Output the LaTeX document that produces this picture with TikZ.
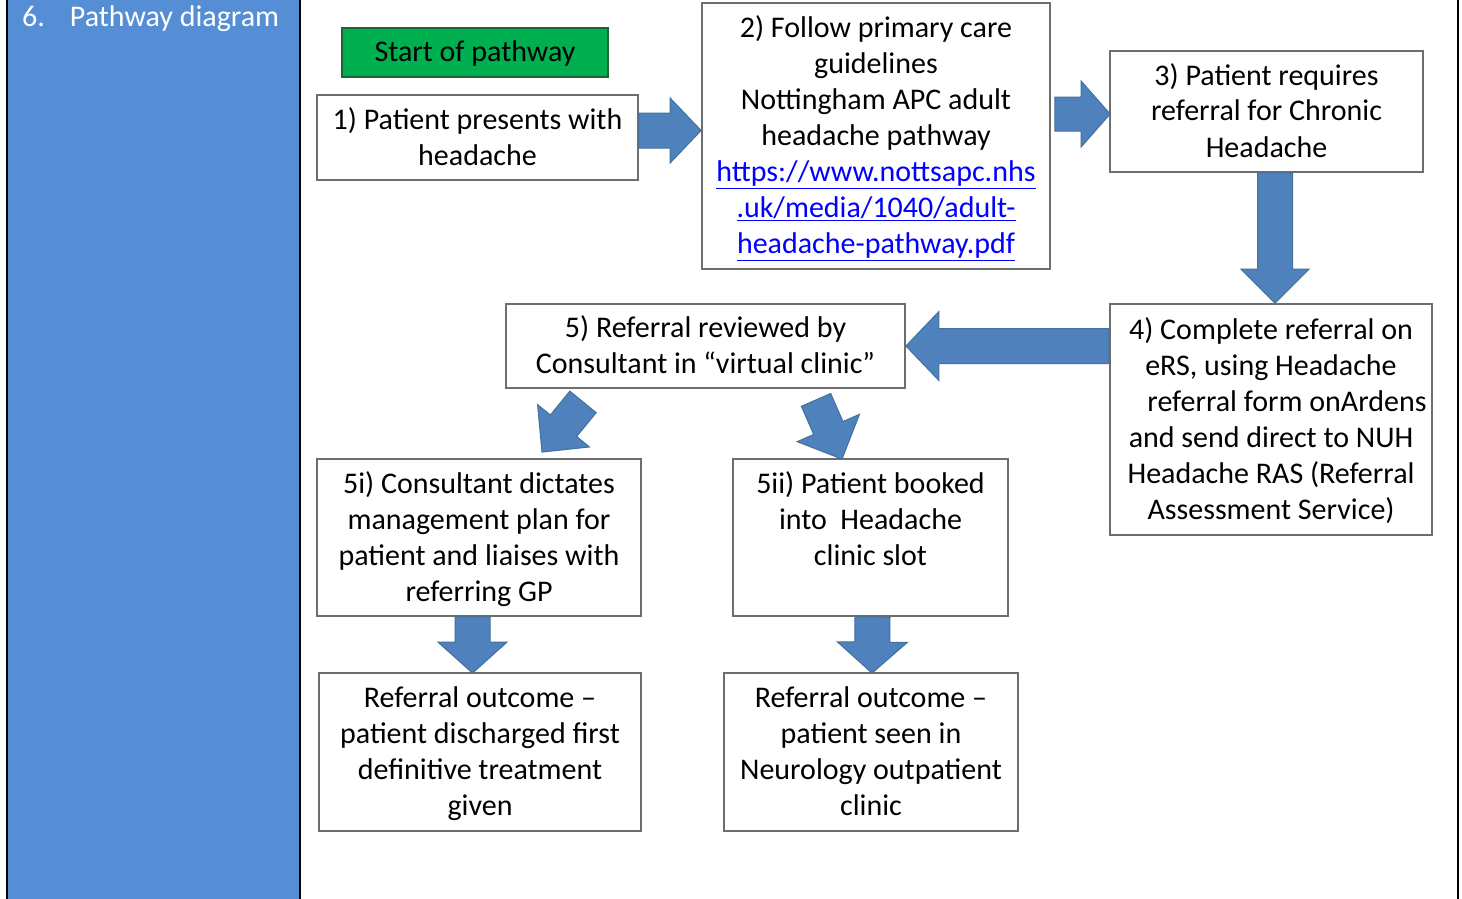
\documentclass[tikz,border=0pt]{standalone}
\usepackage{fontspec}
\setmainfont{Carlito}
\usetikzlibrary{calc}
\definecolor{panelblue}{RGB}{85,142,213}
\definecolor{arrfill}{RGB}{79,129,189}
\definecolor{arrdraw}{RGB}{65,113,156}
\definecolor{boxline}{RGB}{110,110,110}
\definecolor{startgreen}{RGB}{0,176,80}
\definecolor{startline}{RGB}{30,100,50}
\definecolor{linkblue}{RGB}{0,0,255}
\newcommand\blockarr[5]{%
  \coordinate (ba-h) at ($(#2)!#5!(#1)$);
  \filldraw[blockarrow] ($(#1)!#3!90:(#2)$) -- ($(ba-h)!#3!90:(#2)$) -- ($(ba-h)!#4!90:(#2)$) -- (#2) -- ($(ba-h)!#4!-90:(#2)$) -- ($(ba-h)!#3!-90:(#2)$) -- ($(#1)!#3!-90:(#2)$) -- cycle;}
\newcommand\lnk[1]{\textcolor{linkblue}{\underline{#1}}}
\newcommand\ts{\rule{0pt}{26pt}}
\newcommand\bs{\rule[-7pt]{0pt}{7pt}}
\begin{document}
\begin{tikzpicture}[x=1pt,y=-1pt,
  every node/.style={font=\fontsize{30}{36}\selectfont},
  box/.style={draw=boxline, line width=1.8pt, fill=white, align=center, inner sep=0pt},
  blockarrow/.style={fill=arrfill, draw=arrdraw, line width=1pt, line join=miter}]
\useasboundingbox (0,0) rectangle (1462,899);
\fill[white] (0,0) rectangle (1462,899);
% left panel
\fill[panelblue] (7,0) rectangle (300,899);
\draw[black, line width=2.5pt] (7,0) -- (7,899);
\draw[black, line width=2.5pt] (300,0) -- (300,899);
\draw[black, line width=2.5pt] (1458,0) -- (1458,899);
\node[anchor=base west, inner sep=0pt, text=white, font=\fontsize{30}{36}\selectfont] (title) at (22,27) {6.\hspace{25pt}Pathway diagram};
% boxes
\node[box, fill=startgreen, draw=startline, line width=1.5pt, minimum width=266pt, minimum height=49pt] (start) at (475,52.5) {\ts Start of pathway\bs};
\node[box, minimum width=321pt, minimum height=85pt] (b1) at (477.5,137.5) {\ts 1) Patient presents with\\headache\bs};
\node[box, minimum width=348pt, minimum height=266pt] (b2) at (876,136) {\ts 2) Follow primary care\\guidelines\\Nottingham APC adult\\headache pathway\\\lnk{https://www.nottsapc.nhs}\\\lnk{.uk/media/1040/adult-}\\\lnk{headache-pathway.pdf}\bs};
\node[box, minimum width=313pt, minimum height=121pt] (b3) at (1266.5,111.5) {\ts 3) Patient requires\\referral for Chronic\\Headache\bs};
\node[box, minimum width=322pt, minimum height=231pt] (b4) at (1271,419.5) {\ts 4) Complete referral on\\eRS, using Headache\\\hspace*{32pt}referral form onArdens\\and send direct to NUH\\Headache RAS (Referral\\Assessment Service)\bs};
\node[box, minimum width=399pt, minimum height=84pt] (b5) at (705.5,346) {\ts 5) Referral reviewed by\\Consultant in “virtual clinic”\bs};
\node[box, minimum width=324pt, minimum height=157pt] (b5i) at (479,537.5) {\ts 5i) Consultant dictates\\management plan for\\patient and liaises with\\referring GP\bs};
\node[box, minimum width=275pt, minimum height=157pt] (b5ii) at (870.5,537.5) {\ts 5ii) Patient booked\\into\ \ Headache\\clinic slot\\\bs};
\node[box, minimum width=322pt, minimum height=158pt] (b6) at (480,752) {\ts Referral outcome –\\patient discharged first\\definitive treatment\\given\bs};
\node[box, minimum width=294pt, minimum height=158pt] (b7) at (871,752) {\ts Referral outcome –\\patient seen in\\Neurology outpatient\\clinic\bs};
% connector end points
\coordinate (a1t) at ($(b1.east)+(0,-7)$);
\coordinate (a1h) at ($(b2.west)+(0,-5.5)$);
\coordinate (a2t) at ($(b2.east)+(4,-22)$);
\coordinate (a2h) at ($(b3.west)+(1,2.5)$);
\coordinate (a3t) at ($(b3.south)+(8.5,0)$);
\coordinate (a3h) at ($(b4.north)+(4,0)$);
\coordinate (a4t) at ($(b4.west)+(0,-73.5)$);
\coordinate (a4h) at (b5.east);
\coordinate (a5t) at ($(b5.south)+(-122.5,13)$);
\coordinate (a5h) at ($(b5i.north)+(63,-6)$);
\coordinate (a6t) at ($(b5.south)+(110.5,11)$);
\coordinate (a6h) at ($(b5ii.north)+(-28.5,1)$);
\coordinate (a7t) at ($(b5i.south)+(-6.5,0)$);
\coordinate (a7h) at ($(b6.north)+(-7.5,1)$);
\coordinate (a8t) at ($(b5ii.south)+(2,0)$);
\coordinate (a8h) at ($(b7.north)+(1,1)$);
% block arrows
\blockarr{a1t}{a1h}{17.5pt}{32.5pt}{31pt}
\blockarr{a2t}{a2h}{17pt}{33pt}{29pt}
\blockarr{a3t}{a3h}{17.5pt}{34pt}{34pt}
\blockarr{a4t}{a4h}{17.5pt}{34.5pt}{33pt}
\blockarr{a5t}{a5h}{17pt}{33.5pt}{34pt}
\blockarr{a6t}{a6h}{16pt}{34pt}{34pt}
\blockarr{a7t}{a7h}{17.5pt}{34.5pt}{31pt}
\blockarr{a8t}{a8h}{17.5pt}{35pt}{31pt}
\end{tikzpicture}
\end{document}
